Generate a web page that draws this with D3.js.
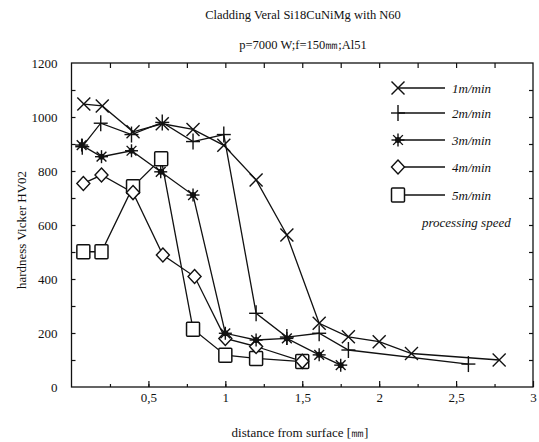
<!DOCTYPE html>
<html>
<head>
<meta charset="utf-8">
<script src="https://cdn.jsdelivr.net/npm/d3@7"></script>
<style>
  html, body { margin: 0; padding: 0; background: #fff; }
  svg text { font-family: "Liberation Serif", "DejaVu Serif", serif; fill: #111; }
</style>
</head>
<body>
<svg id="chart" width="539" height="442"></svg>
<script>
// Hardness profiles, one series per processing speed
const speeds = ["1m/min", "2m/min", "3m/min", "4m/min", "5m/min"];
const markers = ["cross", "plus", "star", "diamond", "square"];

const dist1 = [0.08, 0.2, 0.4, 0.59, 0.79, 0.99, 1.2, 1.4, 1.61, 1.8, 2.0, 2.21, 2.78];
const hv1   = [1048, 1041, 945, 975, 954, 895, 767, 563, 236, 186, 168, 124, 100];

const dist2 = [0.07, 0.19, 0.39, 0.59, 0.79, 0.99, 1.2, 1.4, 1.61, 1.8, 2.58];
const hv2   = [890, 977, 935, 980, 909, 935, 273, 185, 199, 137, 85];

const dist3 = [0.066, 0.195, 0.39, 0.58, 0.79, 1.0, 1.2, 1.4, 1.61, 1.75];
const hv3   = [896, 853, 875, 797, 711, 199, 174, 180, 119, 81];

const dist4 = [0.077, 0.195, 0.4, 0.594, 0.8, 1.0, 1.2, 1.5];
const hv4   = [754, 785, 720, 489, 409, 180, 150, 95];

const dist5 = [0.077, 0.195, 0.4, 0.583, 0.79, 1.0, 1.2, 1.5];
const hv5   = [501, 501, 742, 845, 214, 118, 106, 94];

const xTickValues = [0.5, 1, 1.5, 2, 2.5, 3];
const xTickLabels = ["0,5", "1", "1,5", "2", "2,5", "3"];
const yTickValues = [0, 200, 400, 600, 800, 1000, 1200];

const title = "Cladding Veral Si18CuNiMg with N60";
const subtitle = "p=7000 W;f=150\u339C;Al51";
const xTitle = "distance from surface [\u339C]";
const yTitle = "hardness Vicker HV02";
const legendNote = "processing speed";

const series = [
  { name: speeds[0], marker: markers[0], x: dist1, y: hv1 },
  { name: speeds[1], marker: markers[1], x: dist2, y: hv2 },
  { name: speeds[2], marker: markers[2], x: dist3, y: hv3 },
  { name: speeds[3], marker: markers[3], x: dist4, y: hv4 },
  { name: speeds[4], marker: markers[4], x: dist5, y: hv5 }
];

const svg = d3.select("#chart");
const frame = { left: 71.5, right: 533, top: 63, bottom: 387 };

const x = d3.scaleLinear().domain([0, 3]).range([frame.left, frame.right]);
const y = d3.scaleLinear().domain([0, 1200]).range([frame.bottom, frame.top]);

// Titles
svg.append("text").attr("x", 303).attr("y", 19).attr("text-anchor", "middle")
  .attr("font-size", 12.5).text(title);
svg.append("text").attr("x", 303).attr("y", 49).attr("text-anchor", "middle")
  .attr("font-size", 12.5).text(subtitle);

// Frame
svg.append("rect")
  .attr("x", frame.left).attr("y", frame.top)
  .attr("width", frame.right - frame.left).attr("height", frame.bottom - frame.top)
  .attr("fill", "none").attr("stroke", "#111").attr("stroke-width", 1.3);

// Axes with inward ticks
const minorX = d3.range(0.25, 3, 0.25);
const minorY = d3.range(100, 1200, 100);

const styleAxis = g => {
  g.select(".domain").remove();
  g.selectAll(".tick line").attr("stroke", "#111").attr("stroke-width", 1.2);
  g.selectAll(".tick text").attr("font-family", "Liberation Serif, DejaVu Serif, serif")
    .attr("font-size", 13).attr("fill", "#111");
};

svg.append("g").attr("transform", `translate(0,${frame.bottom})`)
  .call(d3.axisBottom(x).tickValues(minorX).tickSize(-3).tickFormat(""))
  .call(styleAxis);
svg.append("g").attr("transform", `translate(0,${frame.bottom})`)
  .call(d3.axisBottom(x).tickValues(xTickValues).tickSize(-6).tickPadding(6)
    .tickFormat((d, i) => xTickLabels[i]))
  .call(styleAxis);
svg.append("g").attr("transform", `translate(0,${frame.top})`)
  .call(d3.axisTop(x).tickValues(minorX).tickSize(-5).tickFormat(""))
  .call(styleAxis);

svg.append("g").attr("transform", `translate(${frame.left},0)`)
  .call(d3.axisLeft(y).tickValues(minorY).tickSize(-4).tickFormat(""))
  .call(styleAxis);
svg.append("g").attr("transform", `translate(${frame.left},0)`)
  .call(d3.axisLeft(y).tickValues(yTickValues).tickSize(0).tickPadding(14)
    .tickFormat(d3.format("d")))
  .call(styleAxis);
svg.append("g").attr("transform", `translate(${frame.right},0)`)
  .call(d3.axisRight(y).tickValues(minorY).tickSize(-4).tickFormat(""))
  .call(styleAxis);

// Axis titles
svg.append("text").attr("x", 300).attr("y", 437).attr("text-anchor", "middle")
  .attr("font-size", 13).text(xTitle);
svg.append("text").attr("transform", "translate(26,230) rotate(-90)")
  .attr("text-anchor", "middle").attr("font-size", 13).text(yTitle);

// Marker glyphs
function drawMarker(g, type, cx, cy) {
  const s = 6.5;
  const st = { stroke: "#111", "stroke-width": 1.4, fill: "none" };
  const line = (x1, y1, x2, y2) => {
    const l = g.append("line").attr("x1", cx + x1).attr("y1", cy + y1)
      .attr("x2", cx + x2).attr("y2", cy + y2);
    Object.entries(st).forEach(([k, v]) => l.attr(k, v));
  };
  if (type === "cross") {
    line(-s, -s, s, s); line(-s, s, s, -s);
  } else if (type === "plus") {
    line(-s - 0.5, 0, s + 0.5, 0); line(0, -s - 1.5, 0, s + 1.5);
  } else if (type === "star") {
    line(-s, 0, s, 0); line(0, -s, 0, s);
    line(-s * 0.75, -s * 0.75, s * 0.75, s * 0.75);
    line(-s * 0.75, s * 0.75, s * 0.75, -s * 0.75);
    g.append("circle").attr("cx", cx).attr("cy", cy).attr("r", 3).attr("fill", "#111");
  } else if (type === "diamond") {
    g.append("path")
      .attr("d", `M${cx},${cy - s - 0.5}L${cx + s},${cy}L${cx},${cy + s + 0.5}L${cx - s},${cy}Z`)
      .attr("fill", "#fff").attr("stroke", "#111").attr("stroke-width", 1.4);
  } else if (type === "square") {
    g.append("rect").attr("x", cx - 6.5).attr("y", cy - 7).attr("width", 13).attr("height", 14)
      .attr("rx", 1).attr("fill", "#fff").attr("stroke", "#111").attr("stroke-width", 1.5);
  }
}

// Series lines, then markers on top
const lineGen = d3.line().x(d => x(d[0])).y(d => y(d[1]));
const plot = svg.append("g");
series.forEach(s => {
  const pts = s.x.map((d, i) => [d, s.y[i]]);
  plot.append("path").datum(pts).attr("d", lineGen)
    .attr("fill", "none").attr("stroke", "#111").attr("stroke-width", 1.3);
});
series.slice().reverse().forEach(s => {
  const g = plot.append("g");
  s.x.forEach((d, i) => drawMarker(g, s.marker, x(d), y(s.y[i])));
});

// Legend
const legend = svg.append("g");
const legendY = [88, 113, 140, 167, 195];
series.forEach((s, i) => {
  const ly = legendY[i];
  legend.append("line").attr("x1", 398).attr("x2", 445).attr("y1", ly).attr("y2", ly)
    .attr("stroke", "#111").attr("stroke-width", 1.3);
  drawMarker(legend, s.marker, 398, ly);
  legend.append("text").attr("x", 452).attr("y", ly + 4.5).attr("font-size", 13)
    .attr("font-style", "italic").text(s.name);
});
legend.append("text").attr("x", 422).attr("y", 227).attr("font-size", 13)
  .attr("font-style", "italic").text(legendNote);
</script>
</body>
</html>
